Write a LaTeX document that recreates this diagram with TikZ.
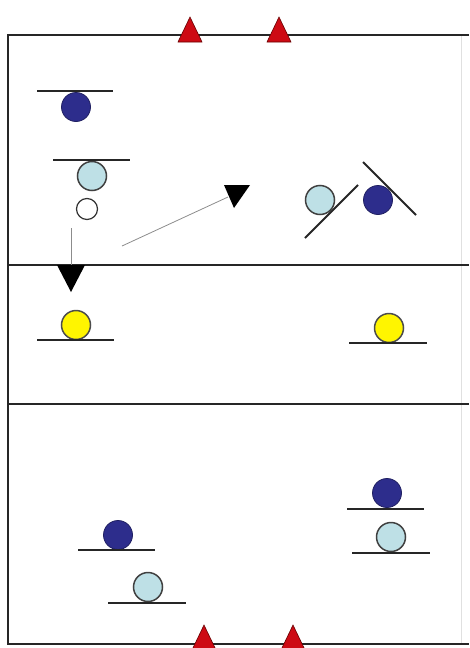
\documentclass[tikz,border=0pt]{standalone}
\usetikzlibrary{shapes.geometric}
\definecolor{navy}{RGB}{45,45,140}
\definecolor{lblue}{RGB}{190,224,230}
\definecolor{yel}{RGB}{255,245,0}
\definecolor{cred}{RGB}{205,10,20}
\tikzset{
  dark/.style={circle,draw=navy!70!black,fill=navy,line width=0.8pt,minimum size=29pt,inner sep=0pt},
  light/.style={circle,draw=black!75,fill=lblue,line width=1.5pt,minimum size=29pt,inner sep=0pt},
  yellowp/.style={circle,draw=black!70,fill=yel,line width=1.5pt,minimum size=29pt,inner sep=0pt},
  ballp/.style={circle,draw=black!80,fill=white,line width=1.2pt,minimum size=21pt,inner sep=0pt},
  bar/.style={line width=2pt,black!85},
  frame/.style={line width=2.2pt,black!85},
  cone/.style={fill=cred,draw=black!60!red,line width=0.6pt},
  head/.style={fill=black},
  runline/.style={line width=0.8pt,black!45}
}
\begin{document}
\begin{tikzpicture}[x=1pt,y=-1pt]
\useasboundingbox (0,0) rectangle (469,648);
% frame
\draw[black!12,line width=1pt] (461,35) -- (461,644);
\draw[frame] (469,35) -- (8,35) -- (8,644) -- (469,644);
\draw[frame] (8,265) -- (469,265);
\draw[frame] (8,404) -- (469,404);
% cones
\foreach \cx/\cy in {190/42, 279/42, 204/650, 293/650}{
  \draw[cone] (\cx-12,\cy) -- (\cx,\cy-25) -- (\cx+12,\cy) -- cycle;
}
% top section
\node[dark] (d1) at (76,107) {};
\draw[bar] (37,91) -- (113,91);
\node[light] (l1) at (92,176) {};
\draw[bar] (53,160) -- (130,160);
\node[ballp] (b1) at (87,209) {};
\node[light] (l2) at (320,200) {};
\draw[bar] (305,238) -- (358,185);
\node[dark] (d2) at (378,200) {};
\draw[bar] (363,162) -- (416,215);
% runs
\coordinate (s1) at (71,228);
\coordinate (e1) at (71,268);
\draw[runline] (s1) -- (e1);
\fill[head] (57,265) -- (85,265) -- (71,292) -- cycle;
\coordinate (s2) at (122,246);
\coordinate (e2) at (228,197);
\draw[runline] (s2) -- (e2);
\fill[head] (224,185) -- (250,185) -- (234,208) -- cycle;
% middle section
\node[yellowp] (y1) at (76,325) {};
\draw[bar] (37,340) -- (114,340);
\node[yellowp] (y2) at (389,328) {};
\draw[bar] (349,343) -- (427,343);
% bottom section
\node[dark] (d3) at (118,535) {};
\draw[bar] (78,550) -- (155,550);
\node[light] (l3) at (148,587) {};
\draw[bar] (108,603) -- (186,603);
\node[dark] (d4) at (387,493) {};
\draw[bar] (347,509) -- (424,509);
\node[light] (l4) at (391,537) {};
\draw[bar] (352,553) -- (430,553);
\end{tikzpicture}
\end{document}
